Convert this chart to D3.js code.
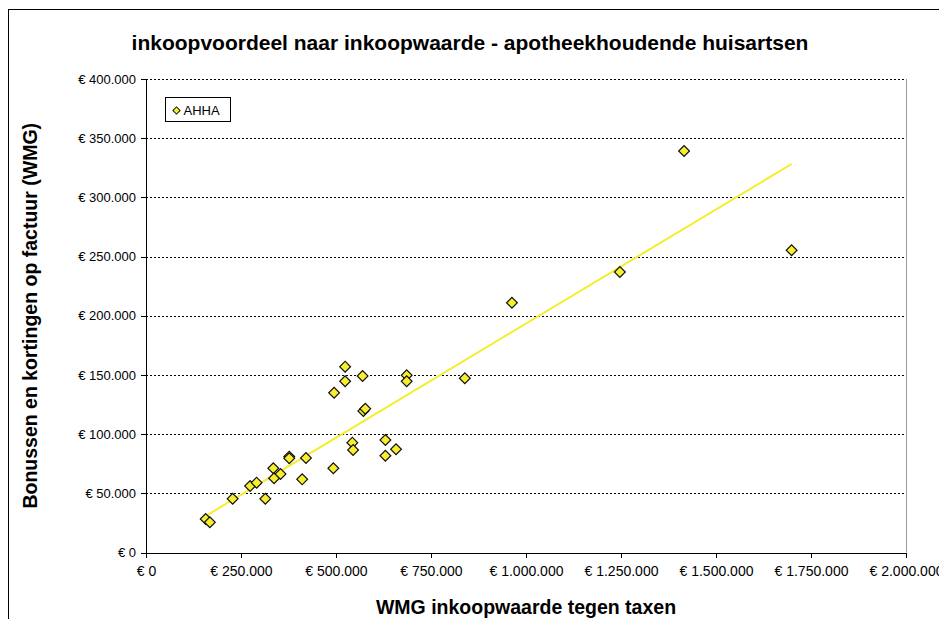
<!DOCTYPE html>
<html>
  <head>
    <meta charset="utf-8">
    <title>inkoopvoordeel naar inkoopwaarde</title>
    <style>
      body {
        margin: 0;
        background: #fff;
        overflow: hidden;
      }

      text {
        font-family: "Liberation Sans", Arial, sans-serif;
      }

      .grid line {
        stroke: #000;
        stroke-width: 1px;
        stroke-dasharray: 2,2;
        shape-rendering: crispEdges;
      }

      .axis path,
      .axis line {
        stroke: #000;
        shape-rendering: crispEdges;
      }

      .axis text {
        fill: #000;
      }
    </style>
  </head>
  <body>
    <svg width="939" height="619"></svg>
  </body>
  <script src="https://d3js.org/d3.v7.min.js"></script>
  <script>
    // WMG inkoopwaarde tegen taxen (x) en bonussen/kortingen (y), in euro
    const inkoopwaarde = [157000, 168000, 228000, 274000, 291000, 314000, 335000, 337000,
      354000, 377000, 377000, 411000, 421000, 493000, 495000, 524000, 524000, 543000,
      545000, 570000, 572000, 577000, 630000, 630000, 658000, 686000, 686000, 839000,
      963000, 1247000, 1416000, 1699000];
    const bonussen = [28300, 25500, 45400, 56200, 59000, 45400, 71100, 62700,
      66300, 81000, 79600, 61800, 79800, 71100, 135000, 157000, 144600, 92800,
      86600, 149100, 119500, 121500, 95000, 81800, 87200, 149700, 144600, 147200,
      211000, 237000, 339200, 255300];
    const trendX = [157000, 1699000];
    const trendY = [30800, 328200];
    const xTicks = [0, 250000, 500000, 750000, 1000000, 1250000, 1500000, 1750000, 2000000];
    const yTicks = [0, 50000, 100000, 150000, 200000, 250000, 300000, 350000, 400000];
    const seriesName = 'AHHA';

    const svg = d3.select('svg');

    const plot = {left: 146, right: 906, top: 79, bottom: 552.5};

    const x = d3.scaleLinear().domain([0, 2000000]).range([plot.left, plot.right]);
    const y = d3.scaleLinear().domain([0, 400000]).range([plot.bottom, plot.top]);

    // euro format met punten als duizendtal-scheiding
    const nl = d3.formatLocale({decimal: ',', thousands: '.', grouping: [3], currency: ['€ ', '']});
    const euro = nl.format('$,.0f');

    // outer chart border (runs off the right and bottom of the picture)
    svg.append('rect')
      .attr('x', 8.5).attr('y', 9.5)
      .attr('width', 960).attr('height', 640)
      .attr('fill', '#fff')
      .attr('stroke', '#000');

    // gridlines
    svg.append('g')
      .attr('class', 'grid')
      .selectAll('line')
      .data(yTicks.filter(d => d > 0))
      .enter()
      .append('line')
      .attr('x1', plot.left)
      .attr('x2', plot.right)
      .attr('y1', d => Math.round(y(d)) + 0.5)
      .attr('y2', d => Math.round(y(d)) + 0.5);

    // right edge of plot area
    svg.append('line')
      .attr('x1', plot.right + 0.5).attr('x2', plot.right + 0.5)
      .attr('y1', plot.top).attr('y2', plot.bottom)
      .attr('stroke', '#999');

    svg.append('g')
      .attr('class', 'axis')
      .attr('transform', 'translate(' + plot.left + ',0)')
      .call(d3.axisLeft(y).tickValues(yTicks).tickFormat(euro).tickSize(5).tickSizeOuter(0).tickPadding(5))
      .selectAll('text').attr('font-size', 13);

    svg.append('g')
      .attr('class', 'axis')
      .attr('transform', 'translate(0,' + plot.bottom + ')')
      .call(d3.axisBottom(x).tickValues(xTicks).tickFormat(euro).tickSize(5).tickSizeOuter(0).tickPadding(9))
      .selectAll('text').attr('font-size', 14);

    svg.append('line')
      .attr('x1', x(trendX[0])).attr('y1', y(trendY[0]))
      .attr('x2', x(trendX[1])).attr('y2', y(trendY[1]))
      .attr('stroke', '#f5ee2c')
      .attr('stroke-width', 2);

    const diamond = d3.symbol().type(d3.symbolSquare).size(58);

    svg.append('g')
      .selectAll('path')
      .data(d3.range(inkoopwaarde.length))
      .enter()
      .append('path')
      .attr('d', diamond)
      .attr('transform', i => 'translate(' + x(inkoopwaarde[i]) + ',' + y(bonussen[i]) + ') rotate(45)')
      .attr('fill', '#f7ef2e')
      .attr('stroke', '#111')
      .attr('stroke-width', 1.2);

    // legend
    const legend = svg.append('g').attr('transform', 'translate(165.5,97.5)');
    legend.append('rect')
      .attr('width', 65).attr('height', 24)
      .attr('fill', '#fff').attr('stroke', '#000');
    legend.append('path')
      .attr('d', d3.symbol().type(d3.symbolSquare).size(26))
      .attr('transform', 'translate(11,13) rotate(45)')
      .attr('fill', '#f7ef2e')
      .attr('stroke', '#111');
    legend.append('text')
      .attr('x', 18).attr('y', 17.5)
      .attr('font-size', 13)
      .text(seriesName);

    // titles
    svg.append('text')
      .attr('x', 470).attr('y', 50)
      .attr('text-anchor', 'middle')
      .attr('font-size', 21)
      .attr('font-weight', 'bold')
      .text('inkoopvoordeel naar inkoopwaarde - apotheekhoudende huisartsen');

    svg.append('text')
      .attr('x', (plot.left + plot.right) / 2).attr('y', 614)
      .attr('text-anchor', 'middle')
      .attr('font-size', 19.5)
      .attr('font-weight', 'bold')
      .text('WMG inkoopwaarde tegen taxen');

    svg.append('text')
      .attr('transform', 'translate(37,' + ((plot.top + plot.bottom) / 2) + ') rotate(-90)')
      .attr('text-anchor', 'middle')
      .attr('font-size', 19.5)
      .attr('font-weight', 'bold')
      .text('Bonussen en kortingen op factuur (WMG)');
  </script>
</html>
